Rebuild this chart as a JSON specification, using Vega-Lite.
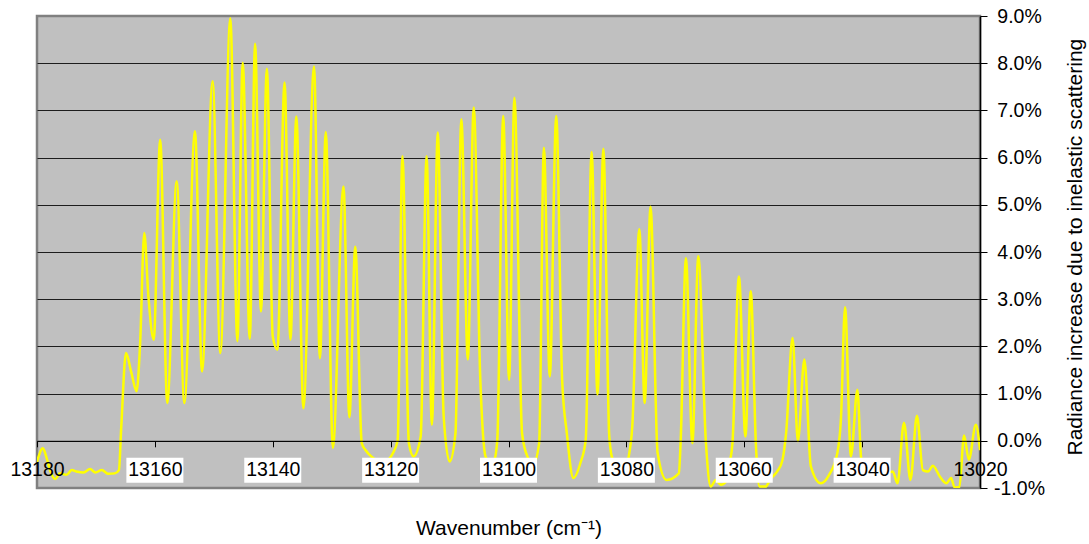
{
  "$schema": "https://vega.github.io/schema/vega-lite/v6.json",
  "width": 943,
  "height": 472,
  "autosize": {"type": "none"},
  "padding": {"left": 37, "top": 16, "right": 109, "bottom": 56},
  "background": "white",
  "config": {
    "font": "Liberation Sans",
    "view": {"fill": "#C0C0C0", "stroke": "#808080", "strokeWidth": 2.5}
  },
  "datasets": {
    "spectrum": [
      {"wn": 13180.0, "r": -0.0045}, {"wn": 13179.0, "r": -0.0016}, {"wn": 13178.4, "r": -0.0035},
      {"wn": 13177.8, "r": -0.0062}, {"wn": 13176.9, "r": -0.0081}, {"wn": 13176.1, "r": -0.0069},
      {"wn": 13175.0, "r": -0.0072}, {"wn": 13174.1, "r": -0.0062}, {"wn": 13173.3, "r": -0.0065},
      {"wn": 13172.1, "r": -0.0067}, {"wn": 13171.0, "r": -0.0060}, {"wn": 13170.1, "r": -0.0067},
      {"wn": 13169.0, "r": -0.0062}, {"wn": 13167.9, "r": -0.0070}, {"wn": 13166.8, "r": -0.0069},
      {"wn": 13166.1, "r": -0.0062}, {"wn": 13165.7, "r": 0.0030}, {"wn": 13164.9, "r": 0.0186},
      {"wn": 13164.0, "r": 0.0145}, {"wn": 13163.1, "r": 0.0105}, {"wn": 13162.5, "r": 0.0207},
      {"wn": 13161.8, "r": 0.0440}, {"wn": 13161.1, "r": 0.0306}, {"wn": 13160.2, "r": 0.0214},
      {"wn": 13159.1, "r": 0.0638}, {"wn": 13157.9, "r": 0.0080}, {"wn": 13156.3, "r": 0.0550},
      {"wn": 13155.0, "r": 0.0080}, {"wn": 13153.2, "r": 0.0656}, {"wn": 13152.0, "r": 0.0147},
      {"wn": 13150.2, "r": 0.0762}, {"wn": 13148.9, "r": 0.0186}, {"wn": 13147.2, "r": 0.0895},
      {"wn": 13146.0, "r": 0.0211}, {"wn": 13145.1, "r": 0.0801}, {"wn": 13143.9, "r": 0.0216},
      {"wn": 13143.0, "r": 0.0841}, {"wn": 13142.0, "r": 0.0274}, {"wn": 13141.0, "r": 0.0788},
      {"wn": 13140.0, "r": 0.0221}, {"wn": 13139.2, "r": 0.0193}, {"wn": 13138.0, "r": 0.0759},
      {"wn": 13137.0, "r": 0.0214}, {"wn": 13136.0, "r": 0.0687}, {"wn": 13134.8, "r": 0.0069},
      {"wn": 13133.0, "r": 0.0793}, {"wn": 13132.0, "r": 0.0175}, {"wn": 13131.0, "r": 0.0654},
      {"wn": 13129.8, "r": -0.0015}, {"wn": 13128.0, "r": 0.0539}, {"wn": 13127.0, "r": 0.0050},
      {"wn": 13126.0, "r": 0.0411}, {"wn": 13124.9, "r": -0.0005}, {"wn": 13124.3, "r": -0.0019},
      {"wn": 13122.9, "r": -0.0037}, {"wn": 13121.5, "r": -0.0048}, {"wn": 13120.5, "r": -0.0042},
      {"wn": 13119.6, "r": -0.0026}, {"wn": 13118.8, "r": 0.0002}, {"wn": 13118.0, "r": 0.0603},
      {"wn": 13116.9, "r": -0.0005}, {"wn": 13116.1, "r": -0.0033}, {"wn": 13114.9, "r": 0.0009},
      {"wn": 13113.9, "r": 0.0603}, {"wn": 13113.0, "r": 0.0034}, {"wn": 13112.0, "r": 0.0653},
      {"wn": 13111.0, "r": 0.0052}, {"wn": 13110.0, "r": -0.0044}, {"wn": 13109.0, "r": 0.0016},
      {"wn": 13108.0, "r": 0.0681}, {"wn": 13106.9, "r": 0.0172}, {"wn": 13105.9, "r": 0.0706},
      {"wn": 13104.8, "r": 0.0136}, {"wn": 13103.9, "r": -0.0033}, {"wn": 13103.0, "r": -0.0050},
      {"wn": 13102.5, "r": -0.0045}, {"wn": 13101.9, "r": 0.0002}, {"wn": 13100.9, "r": 0.0688},
      {"wn": 13099.9, "r": 0.0129}, {"wn": 13099.0, "r": 0.0727}, {"wn": 13097.7, "r": 0.0016},
      {"wn": 13096.8, "r": -0.0033}, {"wn": 13095.8, "r": -0.0050}, {"wn": 13094.8, "r": -0.0005},
      {"wn": 13094.0, "r": 0.0621}, {"wn": 13093.0, "r": 0.0136}, {"wn": 13091.9, "r": 0.0688},
      {"wn": 13090.9, "r": 0.0129}, {"wn": 13090.1, "r": 0.0016}, {"wn": 13089.0, "r": -0.0079},
      {"wn": 13087.8, "r": -0.0047}, {"wn": 13086.9, "r": 0.0002}, {"wn": 13085.9, "r": 0.0612},
      {"wn": 13084.9, "r": 0.0098}, {"wn": 13083.9, "r": 0.0619}, {"wn": 13082.9, "r": 0.0009},
      {"wn": 13082.3, "r": -0.0040}, {"wn": 13081.0, "r": -0.0055}, {"wn": 13080.0, "r": -0.0050},
      {"wn": 13079.6, "r": -0.0033}, {"wn": 13079.0, "r": 0.0030}, {"wn": 13077.8, "r": 0.0448},
      {"wn": 13076.9, "r": 0.0080}, {"wn": 13075.9, "r": 0.0496}, {"wn": 13074.7, "r": -0.0026},
      {"wn": 13073.2, "r": -0.0083}, {"wn": 13071.1, "r": -0.0069}, {"wn": 13070.8, "r": -0.0005},
      {"wn": 13069.9, "r": 0.0387}, {"wn": 13068.8, "r": -0.0005}, {"wn": 13067.8, "r": 0.0391},
      {"wn": 13066.5, "r": -0.0005}, {"wn": 13065.7, "r": -0.0097}, {"wn": 13064.8, "r": -0.0083},
      {"wn": 13064.0, "r": -0.0093}, {"wn": 13063.0, "r": -0.0085}, {"wn": 13062.5, "r": -0.0050},
      {"wn": 13062.0, "r": -0.0005}, {"wn": 13060.9, "r": 0.0348}, {"wn": 13059.8, "r": 0.0009},
      {"wn": 13058.9, "r": 0.0317}, {"wn": 13058.0, "r": -0.0015}, {"wn": 13057.4, "r": -0.0097},
      {"wn": 13056.4, "r": -0.0097}, {"wn": 13055.5, "r": -0.0080}, {"wn": 13054.4, "r": -0.0065},
      {"wn": 13053.5, "r": -0.0040}, {"wn": 13052.9, "r": 0.0016}, {"wn": 13051.8, "r": 0.0218},
      {"wn": 13050.9, "r": -0.0001}, {"wn": 13049.8, "r": 0.0172}, {"wn": 13048.7, "r": -0.0054},
      {"wn": 13047.0, "r": -0.0090}, {"wn": 13045.6, "r": -0.0072}, {"wn": 13044.2, "r": -0.0026},
      {"wn": 13043.6, "r": 0.0045}, {"wn": 13042.9, "r": 0.0283}, {"wn": 13041.9, "r": -0.0033},
      {"wn": 13040.8, "r": 0.0108}, {"wn": 13040.2, "r": -0.0033}, {"wn": 13039.6, "r": -0.0072},
      {"wn": 13038.0, "r": -0.0080}, {"wn": 13036.5, "r": -0.0075}, {"wn": 13034.8, "r": -0.0065},
      {"wn": 13034.0, "r": -0.0090}, {"wn": 13032.9, "r": 0.0038}, {"wn": 13031.8, "r": -0.0083},
      {"wn": 13030.7, "r": 0.0053}, {"wn": 13029.7, "r": -0.0062}, {"wn": 13028.8, "r": -0.0065},
      {"wn": 13028.0, "r": -0.0053}, {"wn": 13026.8, "r": -0.0076}, {"wn": 13025.7, "r": -0.0090},
      {"wn": 13024.9, "r": -0.0079}, {"wn": 13024.3, "r": -0.0099}, {"wn": 13023.5, "r": -0.0098},
      {"wn": 13022.7, "r": 0.0011}, {"wn": 13021.9, "r": -0.0040}, {"wn": 13020.7, "r": 0.0034},
      {"wn": 13020.0, "r": -0.0020}
    ],
    "tickLabels": [
      {"wn": 13160}, {"wn": 13140}, {"wn": 13120}, {"wn": 13100}, {"wn": 13080}, {"wn": 13060}, {"wn": 13040}
    ]
  },
  "layer": [
    {
      "data": {"name": "spectrum"},
      "mark": {"type": "line", "color": "#FFFF00", "strokeWidth": 2.5, "interpolate": "monotone", "clip": true},
      "encoding": {
        "x": {
          "field": "wn",
          "type": "quantitative",
          "title": "Wavenumber (cm⁻¹)",
          "scale": {"domain": [13020, 13180], "reverse": true, "nice": false, "zero": false, "padding": 0},
          "axis": {
            "values": [13180, 13160, 13140, 13120, 13100, 13080, 13060, 13040, 13020],
            "format": "d",
            "offset": -47.2,
            "zindex": 1,
            "grid": false,
            "domainColor": "#000000",
            "domainWidth": 1,
            "tickColor": "#000000",
            "tickSize": 6,
            "labelFontSize": 19.5,
            "labelColor": "#000000",
            "labelPadding": 14,
            "labelBaseline": "top",
            "labelFlush": false,
            "labelOverlap": false,
            "titleFontSize": 21,
            "titleFontWeight": "normal",
            "titleColor": "#000000",
            "titleBaseline": "alphabetic",
            "titleY": 94
          }
        },
        "y": {
          "field": "r",
          "type": "quantitative",
          "title": "Radiance increase due to inelastic scattering",
          "scale": {"domain": [-0.01, 0.09], "nice": false, "zero": false, "padding": 0},
          "axis": {
            "orient": "right",
            "values": [-0.01, 0, 0.01, 0.02, 0.03, 0.04, 0.05, 0.06, 0.07, 0.08, 0.09],
            "format": ".1%",
            "labelExpr": "replace(datum.label, '−', '-')",
            "domainColor": "#000000",
            "domainWidth": 1.5,
            "tickColor": "#000000",
            "tickSize": 7,
            "labelFontSize": 19.5,
            "labelColor": "#000000",
            "labelAlign": "center",
            "labelBaseline": "middle",
            "labelPadding": 32,
            "labelFlush": false,
            "labelOverlap": false,
            "grid": true,
            "gridColor": "#000000",
            "gridWidth": 1,
            "gridOpacity": {"condition": {"test": "datum.value < -0.005 || datum.value > 0.085", "value": 0}, "value": 0.85},
            "titleFontSize": 21,
            "titleFontWeight": "normal",
            "titleColor": "#000000",
            "titleAngle": 270,
            "titleAlign": "left",
            "titleBaseline": "alphabetic",
            "titleX": 101,
            "titleY": 439
          }
        }
      }
    },
    {
      "data": {"name": "tickLabels"},
      "mark": {"type": "bar", "color": "#FFFFFF", "size": 57},
      "encoding": {
        "x": {"field": "wn", "type": "quantitative", "title": "Wavenumber (cm⁻¹)"},
        "y": {"datum": -0.0036, "title": "Radiance increase due to inelastic scattering"},
        "y2": {"datum": -0.0089}
      }
    }
  ]
}
